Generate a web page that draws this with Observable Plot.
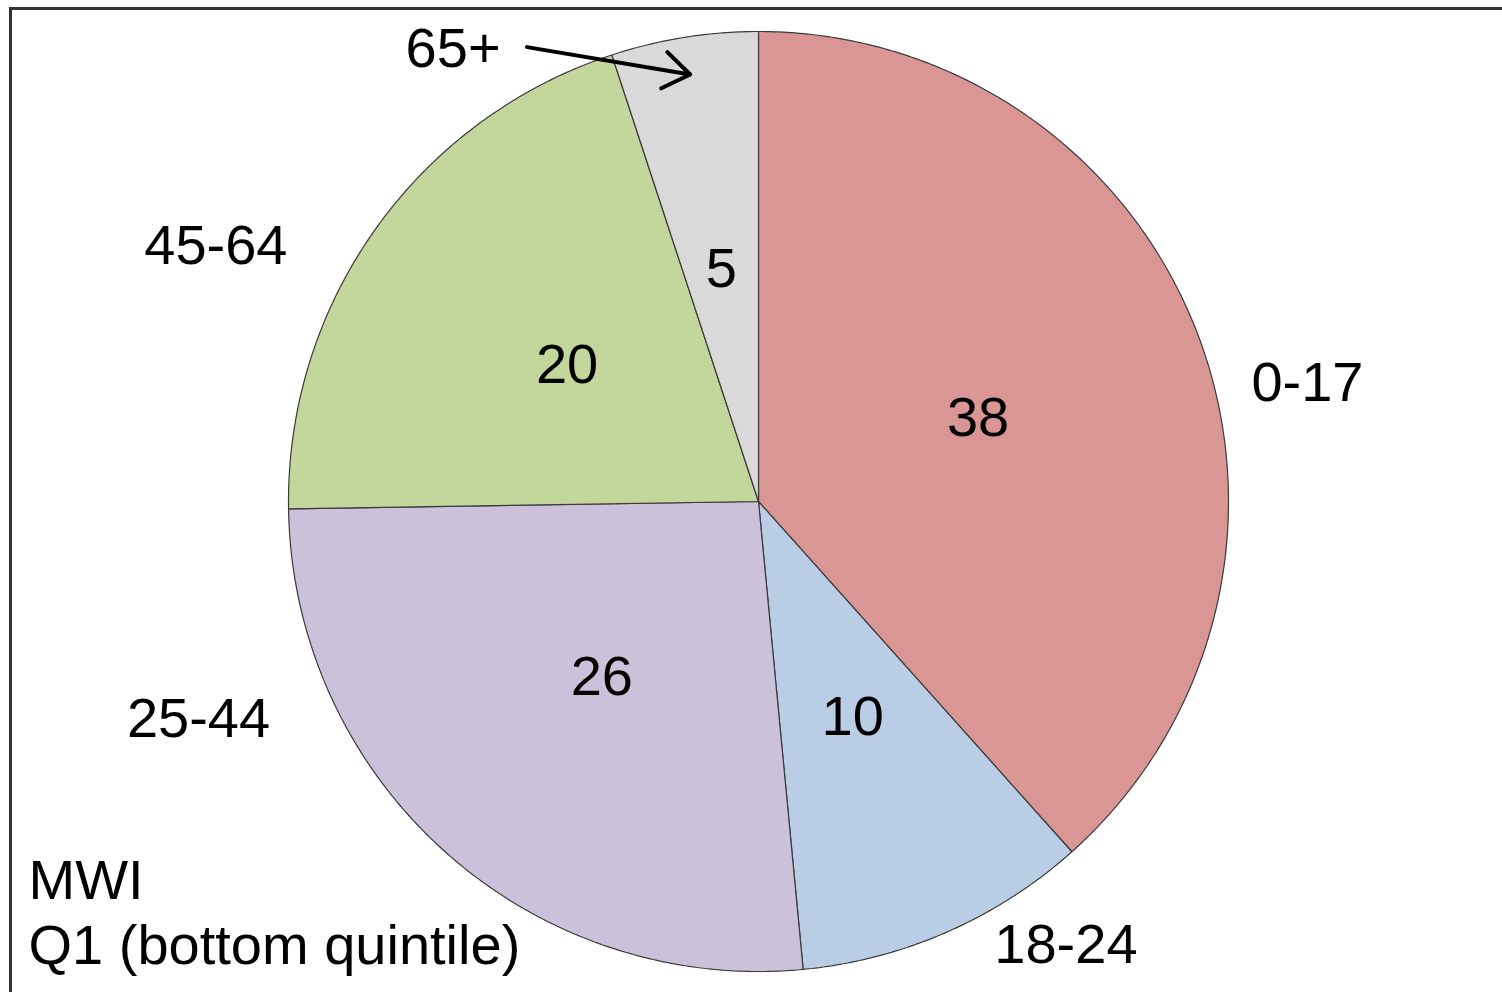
<!DOCTYPE html>
<html>
<head>
<meta charset="utf-8">
<script src="https://cdn.jsdelivr.net/npm/d3@7"></script>
<script src="https://cdn.jsdelivr.net/npm/@observablehq/plot@0.6"></script>
<style>
  html, body { margin: 0; padding: 0; background: #fff; overflow: hidden; }
  #chart svg { display: block; }
</style>
</head>
<body>
<div id="chart"></div>
<script>
// ---- data ----
const ages = ["0-17", "18-24", "25-44", "45-64", "65+"];
const shares = [38, 10, 26, 20, 5];
const colors = ["#D99694", "#B9CDE5", "#CCC1DA", "#C3D69B", "#D9D9D9"];
const caption = ["MWI", "Q1 (bottom quintile)"];

// ---- layout (outside-label placement, degrees clockwise from 12 o'clock, radius in pie radii) ----
const outerAngle = [77.8, 145.3, 248.8, 295.2, 326];
const outerRadius = [1.195, 1.149, 1.278, 1.276, 1.162];
const calloutIndex = 4;          // the small slice gets an arrow
const calloutFrom = {angle: 333, r: 1.085};
const calloutTo = 0.92;

const W = 1502, H = 992, CX = 758, CY = 501, R = 470;

const arcs = d3.pie().sort(null).startAngle(0).endAngle(2 * Math.PI)(shares);
const pt = (a, r) => [r * Math.sin(a), r * Math.cos(a)];
const rad = d => d * Math.PI / 180;

const polys = [];
arcs.forEach((arc, i) => {
  polys.push({age: ages[i], x: 0, y: 0});
  const n = Math.max(2, Math.ceil((arc.endAngle - arc.startAngle) / rad(0.5)));
  for (let k = 0; k <= n; k++) {
    const a = arc.startAngle + (arc.endAngle - arc.startAngle) * k / n;
    const [x, y] = pt(a, 1);
    polys.push({age: ages[i], x, y});
  }
  polys.push({age: ages[i], x: 0, y: 0});
});

const inner = arcs.map((arc, i) => {
  const [x, y] = pt((arc.startAngle + arc.endAngle) / 2, 0.5);
  return {x, y, text: String(shares[i])};
});
const outer = ages.map((age, i) => {
  const [x, y] = pt(rad(outerAngle[i]), outerRadius[i]);
  return {x, y, text: age};
});
const ca = arcs[calloutIndex];
const [ax1, ay1] = pt(rad(calloutFrom.angle), calloutFrom.r);
const [ax2, ay2] = pt((ca.startAngle + ca.endAngle) / 2, calloutTo);

const chart = Plot.plot({
  width: W,
  height: H,
  margin: 0,
  style: {background: "#fff", fontFamily: "'Liberation Sans', Arial, sans-serif", color: "#000"},
  x: {domain: [-CX / R, (W - CX) / R], axis: null},
  y: {domain: [-(H - CY) / R, CY / R], axis: null},
  color: {domain: ages, range: colors},
  marks: [
    Plot.frame({stroke: "#333", strokeWidth: 3, insetLeft: 10, insetTop: 8, insetRight: -20, insetBottom: -20}),
    Plot.line(polys, {x: "x", y: "y", z: "age", fill: "age", stroke: "#3a3a3a", strokeWidth: 1.2, strokeLinejoin: "miter"}),
    Plot.text(inner, {x: "x", y: "y", text: "text", fontSize: 56, fill: "#000"}),
    Plot.text(outer, {x: "x", y: "y", text: "text", fontSize: 56, fill: "#000"}),
    Plot.arrow([{x1: ax1, y1: ay1, x2: ax2, y2: ay2}], {x1: "x1", y1: "y1", x2: "x2", y2: "y2", stroke: "#000", strokeWidth: 4, headLength: 12, headAngle: 70}),
    Plot.text([caption.join("\n")], {frameAnchor: "bottom-left", text: d => d, fontSize: 56, lineHeight: 1.16, textAnchor: "start", lineAnchor: "bottom", dx: 28, dy: -29, fill: "#000"})
  ]
});
document.getElementById("chart").append(chart);
</script>
</body>
</html>
